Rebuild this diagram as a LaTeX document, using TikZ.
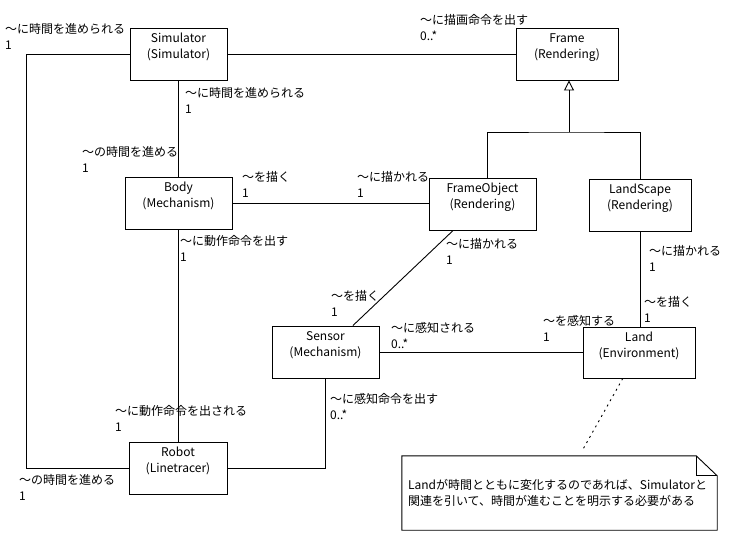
\documentclass[tikz,border=0pt]{standalone}
\usepackage{fontspec}
\setmainfont{Noto Sans CJK JP}
\usetikzlibrary{arrows.meta,calc}

\begin{document}
\begin{tikzpicture}[x=1pt, y=-1pt,
  every node/.style={font=\fontsize{12}{16}\selectfont},
  cls/.style={draw, line width=0.9pt, align=center, minimum height=52pt, inner sep=0pt},
  role/.style={align=left, anchor=north west, inner sep=0pt},
  assoc/.style={line width=0.9pt},
  inherit/.style={line width=0.9pt, -{Triangle[open, length=10pt, width=10pt]}},
  noteline/.style={line width=0.9pt, dash pattern=on 2pt off 4pt}
]

\useasboundingbox (0,0) rectangle (746,555);

\node[cls, minimum width=97pt]  (sim)    at (178.5,54)  {Simulator\\(Simulator)\\\mbox{}};
\node[cls, minimum width=102pt] (frame)  at (567,54)    {Frame\\(Rendering)\\\mbox{}};
\node[cls, minimum width=107pt] (body)   at (178.5,203) {Body\\(Mechanism)\\\mbox{}};
\node[cls, minimum width=107pt] (fobj)   at (482.5,204) {FrameObject\\(Rendering)\\\mbox{}};
\node[cls, minimum width=102pt] (lscape) at (640,205)   {LandScape\\(Rendering)\\\mbox{}};
\node[cls, minimum width=107pt] (sensor) at (325.5,352) {Sensor\\(Mechanism)\\\mbox{}};
\node[cls, minimum width=112pt, minimum height=51pt] (land) at (639,352.5) {Land\\(Environment)\\\mbox{}};
\node[cls, minimum width=98pt]  (robot)  at (178,468)   {Robot\\(Linetracer)\\\mbox{}};

\node[align=left, text width=303pt, inner sep=0pt, minimum width=315pt, minimum height=74pt] (note) at (559.5,493)
  {Landが時間とともに変化するのであれば、Simulatorと\\関連を引いて、時間が進むことを明示する必要がある};
\draw[assoc] (note.north west) -- ($(note.north east)+(-21,0)$) -- ($(note.north east)+(0,20)$)
  -- (note.south east) -- (note.south west) -- cycle;
\draw[assoc] ($(note.north east)+(-21,0)$) |- ($(note.north east)+(0,20)$);

\coordinate (simleft) at (26,468);
\coordinate (genjoin) at (569,132);
\coordinate (notetip) at (582,451);

\draw[assoc] (sim.east) -- (frame.west);
\draw[assoc] (sim.south) -- (body.north);
\draw[assoc] (sim.west) -| (simleft) |- (robot.west);
\draw[assoc] (body.east) -- (body.east -| fobj.west);
\draw[assoc] (body.south) -- (body.south |- robot.north);
\draw[assoc] (fobj.222) -- (sensor.44);
\draw[assoc] (sensor.east) -- (sensor.east -| land.west);
\draw[assoc] (robot.east) -| (sensor.south);
\draw[assoc] (lscape.south) -- (lscape.south |- land.north);
\draw[inherit] (genjoin) -- (genjoin |- frame.south);
\draw[assoc] (fobj.80) |- (genjoin) -| (lscape.north);
\draw[noteline] (land.238) -- (notetip);

\node[role] (lsimtime)   at (5,23)    {～に時間を進められる\\1};
\node[role] (ldrawcmd)   at (420,14)  {～に描画命令を出す\\0..*};
\node[role] (lsimbody)   at (185,87)  {～に時間を進められる\\1};
\node[role] (lbodytime)  at (82,146)  {～の時間を進める\\1};
\node[role] (lbodydraw)  at (242,171) {～を描く\\1};
\node[role] (lfobjdrawn) at (357,171) {～に描かれる\\1};
\node[role] (lbodycmd)   at (180,235) {～に動作命令を出す\\1};
\node[role] (lsensdraw)  at (331,290) {～を描く\\1};
\node[role] (lfobjsens)  at (446,238) {～に描かれる\\1};
\node[role] (llsdrawn)   at (649,245) {～に描かれる\\1};
\node[role] (llanddraw)  at (644,296) {～を描く\\1};
\node[role] (llandsense) at (543,315) {～を感知する\\1};
\node[role] (lsenssensed) at (391,322) {～に感知される\\0..*};
\node[role] (lsenscmd)   at (330,393) {～に感知命令を出す\\0..*};
\node[role] (lrobotcmd)  at (115,405) {～に動作命令を出される\\1};
\node[role] (lrobottime) at (19,474)  {～の時間を進める\\1};

\end{tikzpicture}
\end{document}
